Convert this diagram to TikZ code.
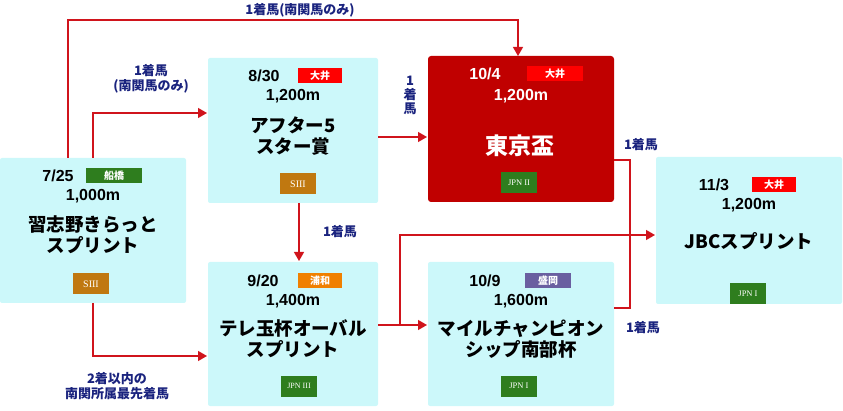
\documentclass[tikz,border=0pt]{standalone}
\usepackage{fontspec}
\setmainfont{Liberation Sans}
\newfontfamily\jp{Noto Sans CJK JP}
\newfontfamily\gradefont{Liberation Serif}
\usetikzlibrary{arrows.meta}
\definecolor{boxc}{HTML}{CCF8FA}
\definecolor{redc}{HTML}{C00000}
\definecolor{lnc}{HTML}{D0141C}
\definecolor{navy}{HTML}{1A237E}
\definecolor{grn}{HTML}{2E7D1E}
\definecolor{gold}{HTML}{C07810}
\definecolor{venred}{HTML}{FF0000}
\definecolor{venor}{HTML}{F08000}
\definecolor{venpu}{HTML}{6A5FA0}
\begin{document}
\begin{tikzpicture}[x=1pt,y=-1pt,
 racebox/.style={fill=boxc,rounded corners=2pt},
 conn/.style={draw=lnc,line width=1.3pt,-{Triangle[length=9pt,width=10pt]}},
 plain/.style={draw=lnc,line width=1.3pt},
 lab/.style={text=navy,font=\jp\bfseries\fontsize{13}{15}\selectfont,align=center},
 date/.style={font=\bfseries\fontsize{16}{18}\selectfont},
 ttl/.style={font=\jp\bfseries\fontsize{18.5}{21}\selectfont,align=center},
 ven/.style={font=\jp\bfseries\fontsize{10}{11}\selectfont,text=white,minimum width=56pt,minimum height=15pt,inner sep=0pt},
 grade/.style={font=\gradefont\fontsize{10}{11}\selectfont,text=white,minimum width=36pt,minimum height=21pt,inner sep=0pt}]
\useasboundingbox (0,0) rectangle (843,411);
% boxes
\fill[racebox] (0,158) rectangle (186,303);
\node (A) at (93,230) {};
\fill[racebox] (208,58) rectangle (378,203);
\node (B) at (293,130) {};
\fill[redc,rounded corners=3pt] (428,56) rectangle (614,202);
\node (C) at (521,129) {};
\fill[racebox] (208,262) rectangle (378,406);
\node (D) at (293,334) {};
\fill[racebox] (428,262) rectangle (614,406);
\node (E) at (521,334) {};
\fill[racebox] (656,157) rectangle (842,304);
\node (F) at (749,230) {};
% A
\node[date] (Ad) at (58,176) {7/25};
\node[ven,fill=grn] (Av) at (114,176) {船橋};
\node[date] (Am) at (93,196) {1,000m};
\node[ttl] (At) at (93,235) {習志野きらっと\\スプリント};
\node[grade,fill=gold] (Ag) at (91,284) {SIII};
% B
\node[date] (Bd) at (264,76) {8/30};
\node[ven,fill=venred,minimum width=44pt] (Bv) at (320,76) {大井};
\node[date] (Bm) at (293,96) {1,200m};
\node[ttl] (Bt) at (293,136) {アフター5\\スター賞};
\node[grade,fill=gold] (Bg) at (298,184) {SIII};
% C
\node[date,text=white] (Cd) at (485,74) {10/4};
\node[ven,fill=venred] (Cv) at (555,74) {大井};
\node[date,text=white] (Cm) at (521,96) {1,200m};
\node[ttl,text=white,font=\jp\bfseries\fontsize{23}{25}\selectfont] (Ct) at (520,146) {東京盃};
\node[grade,fill=grn,font=\gradefont\fontsize{8.5}{9}\selectfont] (Cg) at (519,183) {JPN II};
% D
\node[date] (Dd) at (263,281) {9/20};
\node[ven,fill=venor,minimum width=44pt] (Dv) at (320,281) {浦和};
\node[date] (Dm) at (293,301) {1,400m};
\node[ttl] (Dt) at (293,339) {テレ玉杯オーバル\\スプリント};
\node[grade,fill=grn,font=\gradefont\fontsize{8}{9}\selectfont] (Dg) at (299,386) {JPN III};
% E
\node[date] (Ed) at (485,281) {10/9};
\node[ven,fill=venpu,minimum width=46pt] (Ev) at (548,281) {盛岡};
\node[date] (Em) at (521,301) {1,600m};
\node[ttl] (Et) at (521,339) {マイルチャンピオン\\シップ南部杯};
\node[grade,fill=grn,font=\gradefont\fontsize{8.5}{9}\selectfont] (Eg) at (519,386) {JPN I};
% F
\node[date] (Fd) at (714,185) {11/3};
\node[ven,fill=venred,minimum width=44pt] (Fv) at (774,185) {大井};
\node[date] (Fm) at (749,205) {1,200m};
\node[ttl] (Ft) at (749,241) {JBCスプリント};
\node[grade,fill=grn,font=\gradefont\fontsize{8.5}{9}\selectfont] (Fg) at (748,294) {JPN I};
% connectors
\coordinate (c1) at (68,158);
\coordinate (c2) at (518,56);
\draw[conn] (c1) -- (68,20) -- (c2 |- 0,20) -- (c2);
\node[lab] (L1) at (300,10) {1着馬(南関馬のみ)};
\coordinate (c3) at (93,158);
\coordinate (c4) at (207,113);
\draw[conn] (c3) -- (c3 |- c4) -- (c4);
\node[lab] (L2) at (151,79) {1着馬\\(南関馬のみ)};
\coordinate (c5) at (93,303);
\coordinate (c6) at (207,356);
\draw[conn] (c5) -- (c5 |- c6) -- (c6);
\node[lab] (L3) at (117,386) {2着以内の\\南関所属最先着馬};
\coordinate (c7) at (299,203);
\coordinate (c8) at (299,261);
\draw[conn] (c7) -- (c8);
\node[lab] (L4) at (340,232) {1着馬};
\coordinate (c9) at (378,137);
\coordinate (c10) at (427,137);
\draw[conn] (c9) -- (c10);
\node[lab,font=\jp\bfseries\fontsize{13}{14}\selectfont] (L5) at (410,95) {1\\着\\馬};
\coordinate (c11) at (614,160);
\coordinate (c12) at (614,308);
\draw[plain] (c11) -- (630,160) -- (630,308) -- (c12);
\node[lab] (L6) at (641,145) {1着馬};
\node[lab] (L7) at (643,328) {1着馬};
\coordinate (c13) at (378,325);
\coordinate (c14) at (427,325);
\draw[conn] (c13) -- (c14);
\coordinate (c15) at (400,325);
\coordinate (c16) at (655,235);
\draw[conn] (c15) -- (c15 |- c16) -- (c16);
\end{tikzpicture}
\end{document}
